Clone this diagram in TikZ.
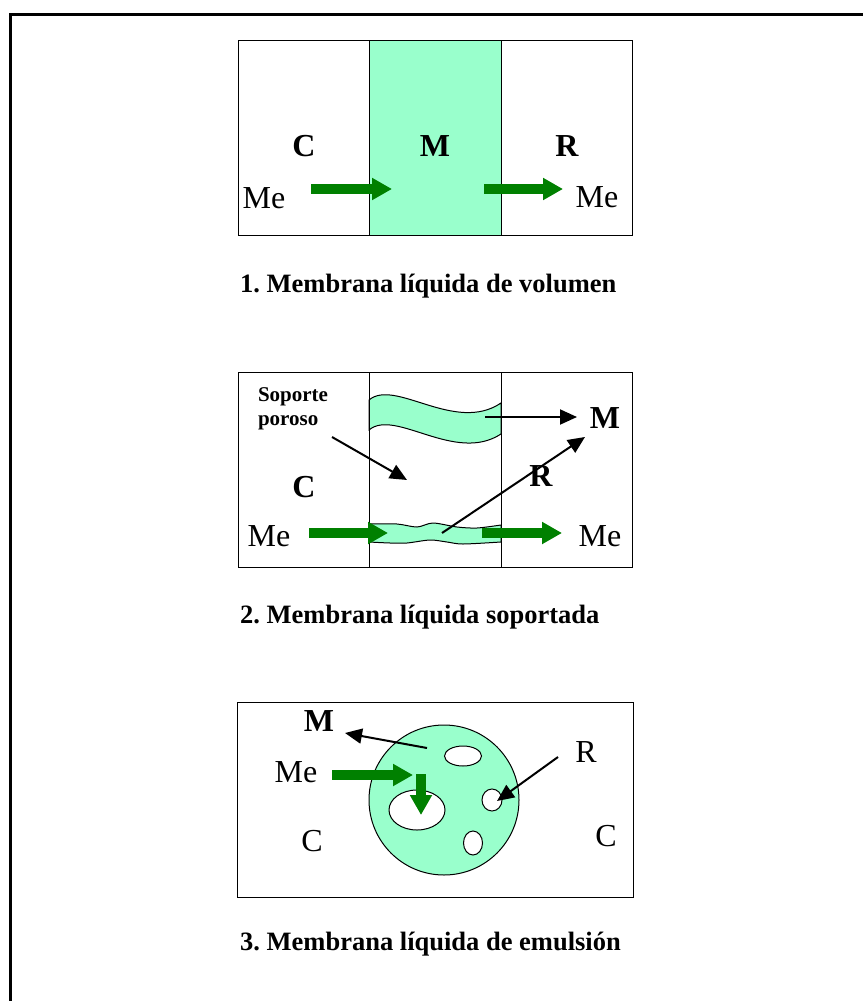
\documentclass[tikz,border=0pt]{standalone}
\usepackage{fontspec}
\setmainfont{Liberation Serif}
\usetikzlibrary{positioning, arrows.meta}
\definecolor{mintfill}{HTML}{99FFCC}
\definecolor{flowgreen}{HTML}{008000}
\frenchspacing

\tikzset{
  panelbox/.style={draw, line width=1pt},
  membrane/.style={draw, fill=mintfill, line width=1pt},
  hole/.style={draw, fill=white, line width=1pt},
  flow/.style={draw=flowgreen, fill=flowgreen, line width=10pt,
    -{Triangle[length=20pt, width=21pt]}},
  pointer/.style={line width=2pt, -{Triangle[length=17pt, width=15pt]}},
  biglabel/.style={inner sep=0pt, font=\fontsize{32}{38}\selectfont},
  boldlabel/.style={biglabel, font=\fontsize{32}{38}\selectfont\bfseries},
  caption/.style={inner sep=0pt, anchor=base west,
    font=\fontsize{26.5}{32}\selectfont\bfseries}
}

\begin{document}
\begin{tikzpicture}[x=1pt, y=-1pt]
  \useasboundingbox (0,0) rectangle (862,1001);
  % outer frame, cut by the page on the right and bottom
  \draw[line width=3pt] (10,1010) |- (875,14);

  % 1. bulk liquid membrane
  \draw[membrane] (369,40) rectangle (501,235);
  \draw[panelbox] (238,40) rectangle (632,235);
  \node[boldlabel] (c1) at (304,146) {C};
  \node[boldlabel] (m1) at (435,146) {M};
  \node[boldlabel] (r1) at (567,146) {R};
  \node[biglabel] (mein1) at (264,198) {Me};
  \node[biglabel] (meout1) at (597,197) {Me};
  \coordinate (f1a) at (311,189);
  \coordinate (f1b) at (392,189);
  \coordinate (f1c) at (484,189);
  \coordinate (f1d) at (563,189);
  \draw[flow] (f1a) -- (f1b);
  \draw[flow] (f1c) -- (f1d);
  \node[caption] (cap1) at (240,292) {1. Membrana líquida de volumen};

  % 2. supported liquid membrane
  \draw[membrane] (369,400) .. controls (395,378) and (455,434) .. (501,403)
    -- (501,434) .. controls (455,464) and (395,408) .. (369,430) -- cycle;
  \draw[membrane] plot[smooth] coordinates {(369,524) (397,524) (417,527)
      (433,523) (457,527) (477,528) (501,525)}
    -- plot[smooth] coordinates {(501,542) (463,544) (447,542) (430,540)
      (407,543) (390,543) (369,542)} -- cycle;
  \draw[panelbox] (238,372) rectangle (632,567);
  \draw[panelbox] (369,372) -- (369,567);
  \draw[panelbox] (501,372) -- (501,567);
  \node[inner sep=0pt, align=left, font=\fontsize{21}{24}\selectfont\bfseries]
    (soporte) at (293,409) {Soporte\\poroso};
  \node[boldlabel] (c2) at (304,487) {C};
  \node[boldlabel] (r2) at (541,476) {R};
  \node[boldlabel] (m2) at (605,418) {M};
  \node[biglabel] (mein2) at (269,536) {Me};
  \node[biglabel] (meout2) at (600,536) {Me};
  \coordinate (s2a) at (332,437);
  \coordinate (s2b) at (407,480);
  \coordinate (u2a) at (485,417);
  \coordinate (u2b) at (577,417);
  \coordinate (l2a) at (442,533);
  \coordinate (l2b) at (585,437);
  \draw[pointer] (s2a) -- (s2b);
  \draw[pointer] (u2a) -- (u2b);
  \draw[pointer] (l2a) -- (l2b);
  \coordinate (f2a) at (309,533);
  \coordinate (f2b) at (388,533);
  \coordinate (f2c) at (482,533);
  \coordinate (f2d) at (562,533);
  \draw[flow] (f2a) -- (f2b);
  \draw[flow] (f2c) -- (f2d);
  \node[caption] (cap2) at (240,623) {2. Membrana líquida soportada};

  % 3. emulsion liquid membrane
  \draw[panelbox] (237,702) rectangle (633,897);
  \draw[membrane] (444,800) circle (75);
  \draw[hole] (463,756) ellipse (18.5 and 10);
  \draw[hole] (417,810) ellipse (28 and 20);
  \draw[hole] (492,800) ellipse (10 and 11);
  \draw[hole] (473,843) ellipse (9.5 and 12);
  \node[boldlabel] (m3) at (319,721) {M};
  \node[biglabel] (me3) at (296,772) {Me};
  \node[biglabel] (c3l) at (312,841) {C};
  \node[biglabel] (c3r) at (606,836) {C};
  \node[biglabel] (r3) at (586,752) {R};
  \coordinate (p3a) at (427,748);
  \coordinate (p3b) at (345,733);
  \coordinate (p3c) at (558,757);
  \coordinate (p3d) at (497,801);
  \draw[pointer] (p3a) -- (p3b);
  \draw[pointer] (p3c) -- (p3d);
  \coordinate (f3a) at (332,775);
  \coordinate (f3b) at (413,775);
  \coordinate (f3c) at (421,774);
  \coordinate (f3d) at (421,815);
  \draw[flow] (f3a) -- (f3b);
  \draw[flow] (f3c) -- (f3d);
  \node[caption] (cap3) at (240,950) {3. Membrana líquida de emulsión};
\end{tikzpicture}
\end{document}
